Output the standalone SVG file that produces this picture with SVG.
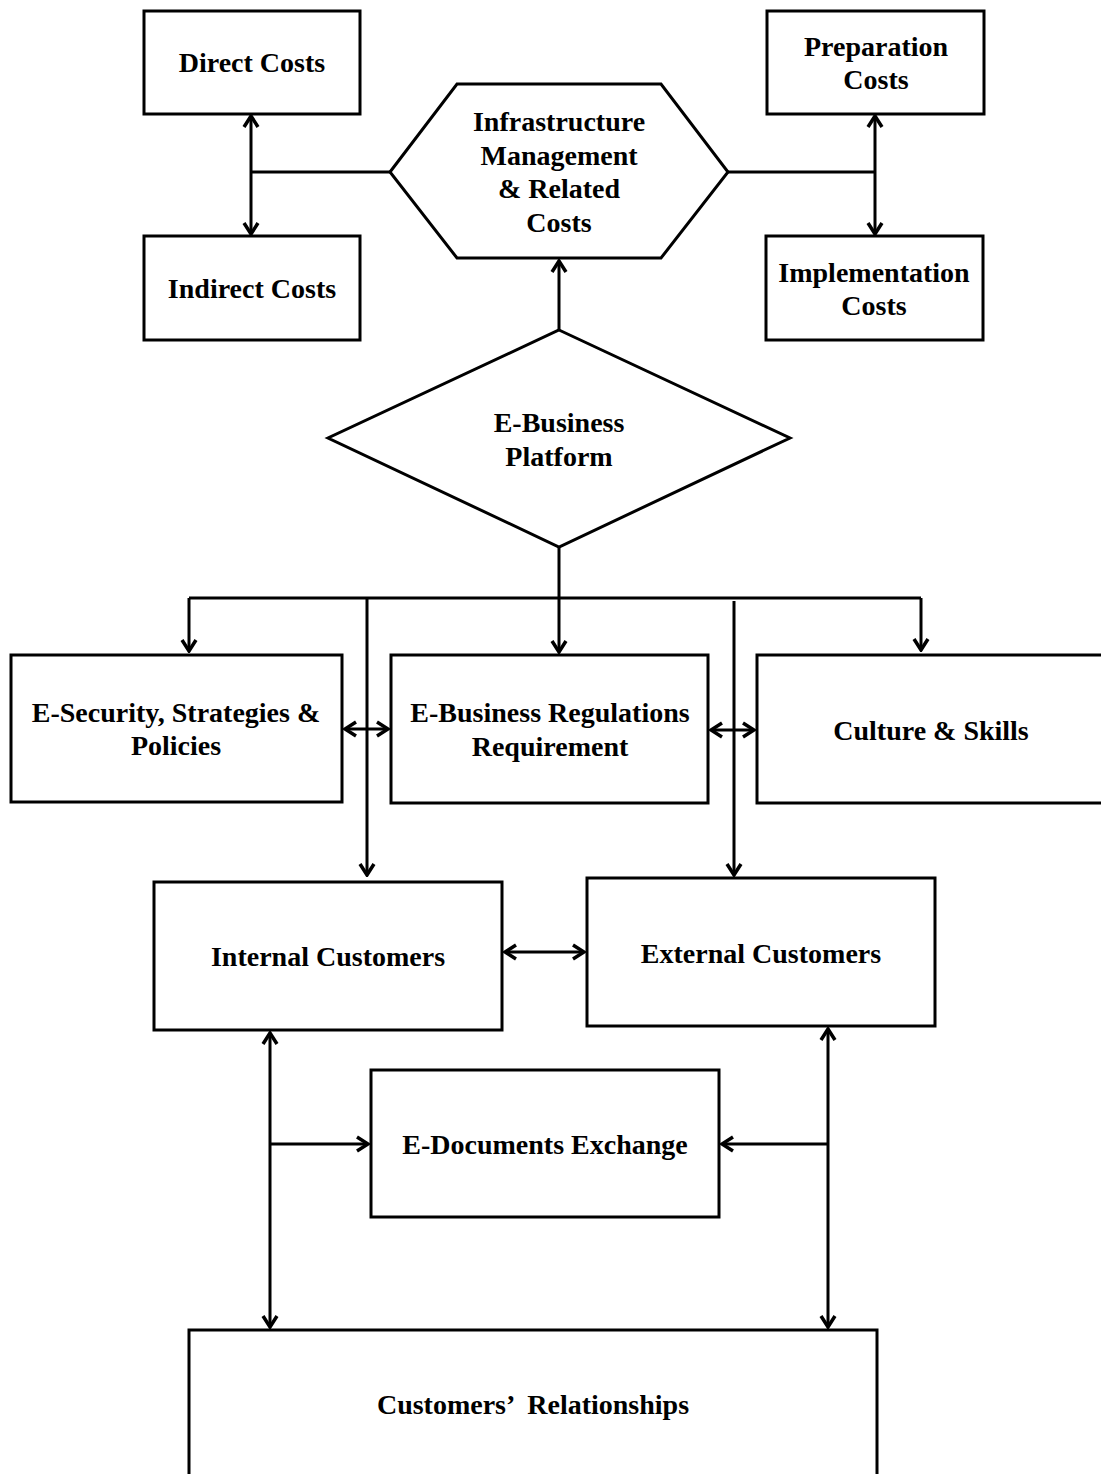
<svg xmlns="http://www.w3.org/2000/svg" width="1101" height="1474" viewBox="0 0 1101 1474">
<style>
.box{fill:#fff;stroke:#000;stroke-width:3}
.lbl{font-family:"Liberation Serif","Times New Roman",serif;font-weight:bold;font-size:28px;fill:#000;text-anchor:middle}
.ln{fill:none;stroke:#000;stroke-width:3}
</style>
<defs>
<marker id="ah" viewBox="-14 -10 16 20" refX="0" refY="0" markerWidth="16" markerHeight="20" markerUnits="userSpaceOnUse" orient="auto-start-reverse">
<path d="M-11,-7 L0,0 L-11,7" fill="none" stroke="#000" stroke-width="3.5" stroke-linejoin="miter"/>
</marker>
</defs>
<rect width="1101" height="1474" fill="#fff"/>
<g id="connectors">
<line class="ln" x1="251" y1="116" x2="251" y2="234" marker-start="url(#ah)" marker-end="url(#ah)"/>
<line class="ln" x1="251" y1="172" x2="390" y2="172"/>
<line class="ln" x1="875" y1="116" x2="875" y2="234" marker-start="url(#ah)" marker-end="url(#ah)"/>
<line class="ln" x1="728" y1="172" x2="875" y2="172"/>
<line class="ln" x1="559" y1="330" x2="559" y2="261" marker-end="url(#ah)"/>
<line class="ln" x1="559" y1="547" x2="559" y2="652" marker-end="url(#ah)"/>
<line class="ln" x1="189" y1="598" x2="921" y2="598"/>
<line class="ln" x1="189" y1="598" x2="189" y2="651" marker-end="url(#ah)"/>
<line class="ln" x1="921" y1="598" x2="921" y2="650" marker-end="url(#ah)"/>
<line class="ln" x1="367" y1="598" x2="367" y2="875" marker-end="url(#ah)"/>
<line class="ln" x1="734" y1="601" x2="734" y2="875" marker-end="url(#ah)"/>
<line class="ln" x1="345" y1="729" x2="388" y2="729" marker-start="url(#ah)" marker-end="url(#ah)"/>
<line class="ln" x1="711" y1="730" x2="754" y2="730" marker-start="url(#ah)" marker-end="url(#ah)"/>
<line class="ln" x1="505" y1="952" x2="584" y2="952" marker-start="url(#ah)" marker-end="url(#ah)"/>
<line class="ln" x1="270" y1="1033" x2="270" y2="1327" marker-start="url(#ah)" marker-end="url(#ah)"/>
<line class="ln" x1="270" y1="1144" x2="368" y2="1144" marker-end="url(#ah)"/>
<line class="ln" x1="828" y1="1029" x2="828" y2="1327" marker-start="url(#ah)" marker-end="url(#ah)"/>
<line class="ln" x1="828" y1="1144" x2="722" y2="1144" marker-end="url(#ah)"/>
</g>
<g id="direct-costs">
<rect class="box" x="144" y="11" width="216" height="103"/>
<text class="lbl" x="252" y="72">Direct Costs</text>
</g>
<g id="indirect-costs">
<rect class="box" x="144" y="236" width="216" height="104"/>
<text class="lbl" x="252" y="298">Indirect Costs</text>
</g>
<g id="infrastructure">
<polygon class="box" points="390,172 457,84 661,84 728,172 661,258 457,258"/>
<text class="lbl" x="559" y="131">Infrastructure</text>
<text class="lbl" x="559" y="165">Management</text>
<text class="lbl" x="559" y="198">&amp; Related</text>
<text class="lbl" x="559" y="232">Costs</text>
</g>
<g id="preparation-costs">
<rect class="box" x="767" y="11" width="217" height="103"/>
<text class="lbl" x="876" y="56">Preparation</text>
<text class="lbl" x="876" y="89">Costs</text>
</g>
<g id="implementation-costs">
<rect class="box" x="766" y="236" width="217" height="104"/>
<text class="lbl" x="874" y="282">Implementation</text>
<text class="lbl" x="874" y="315">Costs</text>
</g>
<g id="e-business-platform">
<polygon class="box" points="559,330 790,438 559,547 328,438"/>
<text class="lbl" x="559" y="432">E-Business</text>
<text class="lbl" x="559" y="466">Platform</text>
</g>
<g id="e-security">
<rect class="box" x="11" y="655" width="331" height="147"/>
<text class="lbl" x="176" y="722">E-Security, Strategies &amp;</text>
<text class="lbl" x="176" y="755">Policies</text>
</g>
<g id="e-business-regulations">
<rect class="box" x="391" y="655" width="317" height="148"/>
<text class="lbl" x="550" y="722">E-Business Regulations</text>
<text class="lbl" x="550" y="756">Requirement</text>
</g>
<g id="culture-skills">
<rect class="box" x="757" y="655" width="350" height="148"/>
<text class="lbl" x="931" y="740">Culture &amp; Skills</text>
</g>
<g id="internal-customers">
<rect class="box" x="154" y="882" width="348" height="148"/>
<text class="lbl" x="328" y="966">Internal Customers</text>
</g>
<g id="external-customers">
<rect class="box" x="587" y="878" width="348" height="148"/>
<text class="lbl" x="761" y="963">External Customers</text>
</g>
<g id="e-documents-exchange">
<rect class="box" x="371" y="1070" width="348" height="147"/>
<text class="lbl" x="545" y="1154">E-Documents Exchange</text>
</g>
<g id="customers-relationships">
<rect class="box" x="189" y="1330" width="688" height="160"/>
<text class="lbl" x="533" y="1414" xml:space="preserve">Customers’  Relationships</text>
</g>
</svg>
